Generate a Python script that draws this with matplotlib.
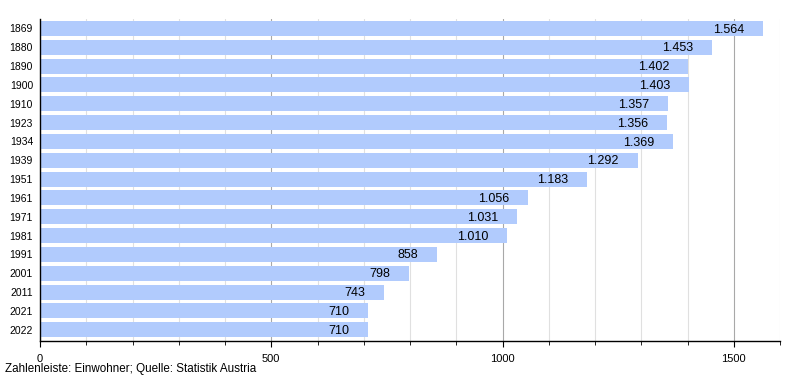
import matplotlib.pyplot as plt
from matplotlib.ticker import MultipleLocator

plt.rcParams['font.family'] = ['Liberation Sans', 'DejaVu Sans']

years = ['1869', '1880', '1890', '1900', '1910', '1923', '1934', '1939', '1951',
         '1961', '1971', '1981', '1991', '2001', '2011', '2021', '2022']
population = [1564, 1453, 1402, 1403, 1357, 1356, 1369, 1292, 1183,
              1056, 1031, 1010, 858, 798, 743, 710, 710]

BAR_COLOR = '#b1cbfd'

fig = plt.figure(figsize=(8, 3.8), dpi=100)
ax = fig.add_axes([0.05, 0.1026, 0.925, 0.8474])

pos = list(range(len(years)))
bars = ax.barh(pos, population, height=0.8, color=BAR_COLOR, zorder=2)

for p, v in zip(pos, population):
    label = f"{v:,}".replace(',', '.')
    ax.annotate(label, (v, p), xytext=(-13.5, -0.8), textcoords='offset points',
                ha='right', va='center', fontsize=9, color='black', zorder=3)

ax.set_xlim(0, 1600)
ax.set_ylim(len(years) - 0.4, -0.5)
ax.set_yticks(pos)
ax.set_yticklabels(years)
ax.xaxis.set_major_locator(MultipleLocator(500))
ax.xaxis.set_minor_locator(MultipleLocator(100))

ax.grid(axis='x', which='minor', color='#e0e0e0', linewidth=0.8, zorder=0)
ax.grid(axis='x', which='major', color='#a8a8a8', linewidth=0.8, zorder=1)

for s in ['top', 'right']:
    ax.spines[s].set_visible(False)
ax.spines['left'].set_linewidth(1.0)
ax.spines['bottom'].set_linewidth(1.0)

ax.tick_params(axis='y', length=0, labelsize=7.5, pad=5)
ax.tick_params(axis='x', which='major', length=4, labelsize=8, pad=5, direction='out')
ax.tick_params(axis='x', which='minor', length=3, direction='out')

fig.text(5 / 800, 1 - 369 / 380, 'Zahlenleiste: Einwohner; Quelle: Statistik Austria',
         fontsize=8.4, ha='left', va='center')

fig.savefig('out.png', dpi=100)
